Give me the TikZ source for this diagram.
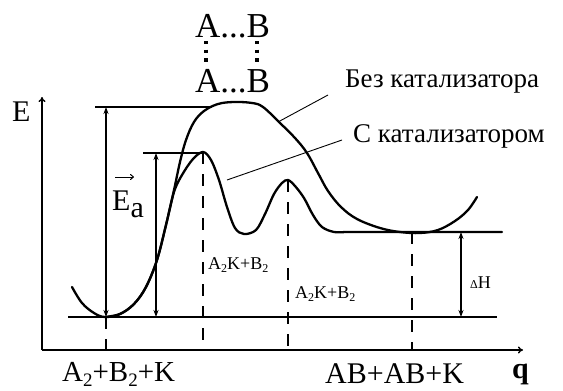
\documentclass[tikz,border=0pt]{standalone}
\usepackage{fontspec}
\setmainfont{Liberation Serif}
\usetikzlibrary{arrows.meta}
\begin{document}
\begin{tikzpicture}[x=1pt,y=-1pt,
  thin/.style={line width=1.1pt},
  axis/.style={line width=1.4pt,-{To[length=5pt,width=7pt]}},
  curve/.style={line width=2.3pt,line join=round,line cap=round},
  dimarrow/.style={line width=1.1pt,{Stealth[length=7pt,width=5pt]}-{Stealth[length=7pt,width=5pt]}},
  dashline/.style={line width=1.3pt,dash pattern=on 12pt off 10pt},
  dotline/.style={line width=3.2pt,dash pattern=on 3.2pt off 5.5pt},
  lbl/.style={inner sep=0pt,anchor=base west}]
\useasboundingbox (0,0) rectangle (563,391);
% key points
\coordinate (o) at (42,350);
\coordinate (ytop) at (42,97);
\coordinate (xend) at (523,350);
\coordinate (b0) at (68,317);
\coordinate (b1) at (497,317);
\coordinate (t0) at (95,107);
\coordinate (t1) at (212,107);
\coordinate (c0) at (143,153);
\coordinate (c1) at (203,153);
\coordinate (a1t) at (106,107);
\coordinate (a1b) at (106,317);
\coordinate (a1d) at (106,350);
\coordinate (a2t) at (156,153);
\coordinate (a2b) at (156,317);
\coordinate (p1) at (203,152);
\coordinate (p1d) at (203,350);
\coordinate (p2) at (288,180);
\coordinate (p2d) at (288,350);
\coordinate (p3) at (412,232);
\coordinate (p3d) at (412,350);
\coordinate (hT) at (461,232);
\coordinate (hB) at (461,317);
\coordinate (l1a) at (278,122);
\coordinate (l1b) at (328,95);
\coordinate (l2a) at (227,180);
\coordinate (l2b) at (342,140);
% axes
\draw[axis] (o) -- (ytop);
\draw[axis] (o) -- (xend);
% horizontal levels
\draw[thin] (b0) -- (b1);
\draw[thin] (t0) -- (t1);
\draw[thin] (c0) -- (c1);
% dimension arrows
\draw[dimarrow] (a1t) -- (a1b);
\draw[dimarrow] (a2t) -- (a2b);
\draw[dimarrow] (hT) -- (hB);
% dashed verticals
\draw[dashline] (a1b) -- (a1d);
\draw[dashline] (p1) -- (p1d);
\draw[dashline] (p2) -- (p2d);
\draw[dashline] (p3) -- (p3d);
% uncatalysed curve
\draw[curve] plot[smooth,tension=0.6] coordinates {
 (72,287) (82,303) (94,313) (105,317) (120,314) (134,304) (146,287)
 (157,260) (166,225) (174,190) (180,162) (186,140) (194,122) (204,111)
 (218,104) (234,102) (252,103) (263,107) (280,123) (295,138) (307,153)
 (318,173) (328,191) (341,207) (357,219) (380,228) (400,232) (420,233)
 (438,230) (455,221) (468,210) (477,197)};
% catalysed curve
\draw[curve] plot[smooth,tension=0.55] coordinates {
 (105,317) (120,314) (134,304) (146,287) (157,260) (166,225) (174,192)
 (182,175) (193,159) (203,152) (211,160) (219,180) (227,207) (235,228)
 (244,234) (256,230) (265,214) (274,194) (282,183) (288,180) (295,186)
 (304,198) (313,215) (322,227) (334,232) (345,232)}
 -- (502,232);
% leader lines
\draw[line width=0.9pt] (l1a) -- (l1b);
\draw[line width=0.9pt] (l2a) -- (l2b);
% A...B labels
\node[lbl,font=\fontsize{35}{35}\selectfont] (ab1) at (195,37) {A...B};
\node[lbl,font=\fontsize{35}{35}\selectfont] (ab2) at (195,92) {A...B};
\coordinate (d1a) at (206,41);
\coordinate (d1b) at (206,62);
\coordinate (d2a) at (257,41);
\coordinate (d2b) at (257,62);
\draw[dotline] (d1a) -- (d1b);
\draw[dotline] (d2a) -- (d2b);
% texts
\node[lbl,font=\fontsize{30}{30}\selectfont] (E) at (12,121) {E};
\node[lbl,font=\fontsize{30}{30}\selectfont] (Ea) at (112,210) {E\raisebox{-7pt}{a}};
\coordinate (va) at (115,177);
\coordinate (vb) at (134,177);
\draw[line width=1pt,-{To[length=4pt,width=6pt]}] (va) -- (vb);
\node[lbl,font=\fontsize{27}{27}\selectfont] (bez) at (345,87) {Без катализатора};
\node[lbl,font=\fontsize{27}{27}\selectfont] (skat) at (353,142) {С катализатором};
\node[lbl,font=\fontsize{18}{18}\selectfont] (k1) at (208,269) {A\raisebox{-3pt}{\fontsize{12}{12}\selectfont 2}K+B\raisebox{-3pt}{\fontsize{12}{12}\selectfont 2}};
\node[lbl,font=\fontsize{18}{18}\selectfont] (k2) at (295,298) {A\raisebox{-3pt}{\fontsize{12}{12}\selectfont 2}K+B\raisebox{-3pt}{\fontsize{12}{12}\selectfont 2}};
\node[lbl,font=\fontsize{18}{18}\selectfont] (dH) at (470,288) {{\fontsize{12}{12}\selectfont Δ}H};
\node[lbl,font=\fontsize{29}{29}\selectfont] (react) at (62,381) {A\raisebox{-5pt}{\fontsize{19}{19}\selectfont 2}+B\raisebox{-5pt}{\fontsize{19}{19}\selectfont 2}+K};
\node[lbl,font=\fontsize{30}{30}\selectfont] (prod) at (325,383) {AB+AB+K};
\node[lbl,font=\fontsize{30}{30}\selectfont\bfseries] (q) at (512,378) {q};
\end{tikzpicture}
\end{document}
